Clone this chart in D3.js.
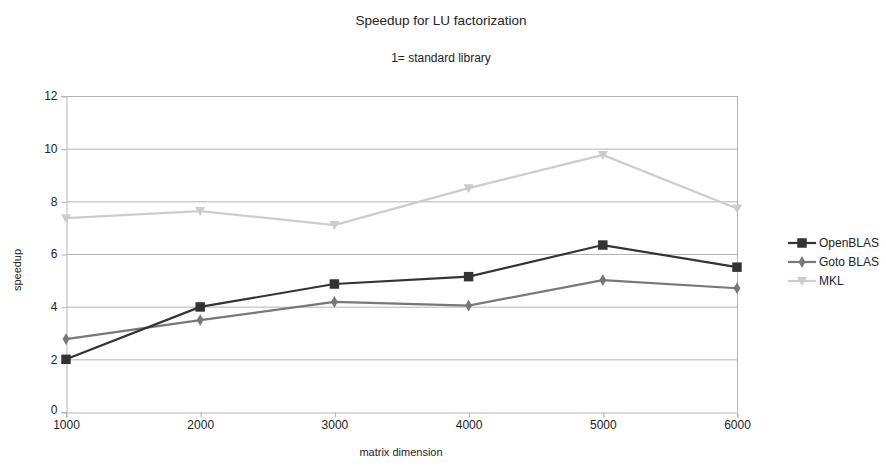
<!DOCTYPE html>
<html><head><meta charset="utf-8">
<script src="https://cdn.jsdelivr.net/npm/d3@7"></script>
<style>body{margin:0;background:#fff;} svg{display:block;} text{font-family:"Liberation Sans",Arial,sans-serif;fill:#222;}</style>
</head><body>
<svg id="c" width="886" height="467"></svg>
<script>
const dims = [1000, 2000, 3000, 4000, 5000, 6000];
const openBLAS = [2.0, 3.99, 4.86, 5.14, 6.34, 5.5];
const gotoBLAS = [2.77, 3.49, 4.18, 4.04, 5.01, 4.7];
const mkl = [7.36, 7.63, 7.1, 8.5, 9.76, 7.73];
const seriesNames = ["OpenBLAS", "Goto BLAS", "MKL"];
const yTicks = [0, 2, 4, 6, 8, 10, 12];

const series = [
  {name: seriesNames[0], values: openBLAS, color: "#333333", symbol: d3.symbolSquare, size: 90},
  {name: seriesNames[1], values: gotoBLAS, color: "#777777", symbol: d3.symbolDiamond, size: 40},
  {name: seriesNames[2], values: mkl, color: "#cccccc", symbol: "tri", size: 9}
];

const svg = d3.select("#c");
const L = 66, R = 737, T = 96, B = 412;
const x = d3.scaleLinear().domain([1000, 6000]).range([L, R]);
const y = d3.scaleLinear().domain([0, 12]).range([B, T]);
const gridColor = "#b3b3b3";

// grid
svg.append("g").selectAll("line").data(yTicks.filter(v => v > 0)).join("line")
  .attr("x1", L).attr("x2", R).attr("y1", d => y(d) + 0.5).attr("y2", d => y(d) + 0.5)
  .attr("stroke", gridColor).attr("stroke-width", 1);

// y axis
const ya = svg.append("g").attr("transform", `translate(${L + 0.5},0)`)
  .call(d3.axisLeft(y).tickValues(yTicks).tickSize(5).tickPadding(4).tickFormat(d3.format("d")));
ya.select(".domain").attr("stroke", gridColor);
ya.selectAll(".tick line").attr("stroke", gridColor).attr("transform", "translate(0,0.5)");
ya.selectAll("text").style("font-size", "12px").attr("fill", "#222");
ya.selectAll(".tick").filter(d => d === 0).select("text").attr("dy", "0.1em");

// right border
svg.append("line").attr("x1", R + 0.5).attr("x2", R + 0.5).attr("y1", T).attr("y2", B)
  .attr("stroke", gridColor);

// x axis
const xa = svg.append("g").attr("transform", `translate(0,${B + 0.5})`)
  .call(d3.axisBottom(x).tickValues(dims).tickSize(5).tickPadding(3).tickFormat(d3.format("d")));
xa.select(".domain").attr("stroke", gridColor);
xa.selectAll(".tick line").attr("stroke", gridColor).attr("transform", "translate(0.5,0)");
xa.selectAll("text").style("font-size", "12px").attr("fill", "#222");

function marker(sel, s) {
  if (s.symbol === "tri") {
    sel.append("path").attr("d", "M-5,-4L5,-4L0,5Z").attr("fill", s.color);
  } else {
    sel.append("path").attr("d", d3.symbol().type(s.symbol).size(s.size)()).attr("fill", s.color);
  }
}

const line = d3.line().x((d, i) => x(dims[i])).y(d => y(d));
// draw in reverse order so OpenBLAS on top
[...series].reverse().forEach(s => {
  svg.append("path").datum(s.values).attr("d", line).attr("fill", "none")
    .attr("stroke", s.color).attr("stroke-width", 2.2);
  s.values.forEach((v, i) => {
    const g = svg.append("g").attr("transform", `translate(${x(dims[i])},${y(v)})`);
    marker(g, s);
  });
});

// legend
const leg = svg.append("g");
const ly = [243, 262, 281];
series.forEach((s, i) => {
  leg.append("line").attr("x1", 788).attr("x2", 816).attr("y1", ly[i]).attr("y2", ly[i])
    .attr("stroke", s.color).attr("stroke-width", 2.2);
  const g = leg.append("g").attr("transform", `translate(802,${ly[i]})`);
  marker(g, s);
  leg.append("text").attr("x", 819).attr("y", ly[i]).attr("dy", "0.35em")
    .style("font-size", "12px").text(s.name);
});

// titles
svg.append("text").attr("x", 441).attr("y", 25).attr("text-anchor", "middle")
  .style("font-size", "13.5px").text("Speedup for LU factorization");
svg.append("text").attr("x", 441).attr("y", 62).attr("text-anchor", "middle")
  .style("font-size", "12px").text("1= standard library");
svg.append("text").attr("x", 401).attr("y", 456).attr("text-anchor", "middle")
  .style("font-size", "11px").text("matrix dimension");
svg.append("text").attr("transform", "translate(21,270) rotate(-90)").attr("text-anchor", "middle")
  .style("font-size", "11px").text("speedup");
</script>
</body></html>
